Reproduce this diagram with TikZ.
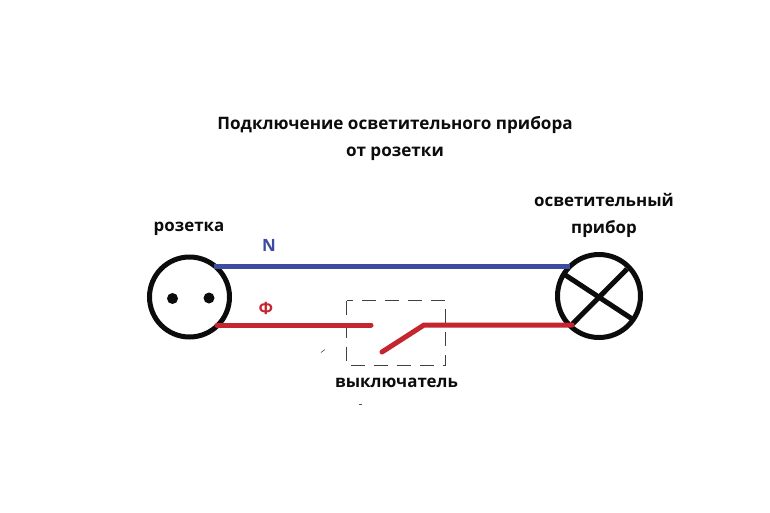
\documentclass[tikz,border=0pt]{standalone}
\usepackage{fontspec}
\setmainfont{Open Sans}
\definecolor{wireblue}{HTML}{3D4C9E}
\definecolor{wirered}{HTML}{C4252F}
\definecolor{ink}{HTML}{0C0C0C}
\tikzset{
  x=1pt,y=-1pt,
  lbl/.style={font=\bfseries\fontsize{16.9}{26.5}\selectfont,text=ink,align=center,inner sep=0pt},
  ttl/.style={font=\bfseries\fontsize{17.1}{26.5}\selectfont,text=ink,align=center,inner sep=0pt},
  ring/.style={circle,draw=ink,line width=5pt,inner sep=0pt},
  pin/.style={circle,fill=ink,minimum size=11pt,inner sep=0pt},
  bluewire/.style={draw=wireblue,line width=5pt},
  redwire/.style={draw=wirered,line width=5pt,line cap=round},
  cross/.style={draw=ink,line width=5pt},
  swbox/.style={draw=black!75,line width=1pt,dash pattern=on 14pt off 9pt},
  speck/.style={draw=black!70,line width=0.6pt}
}
\begin{document}
\begin{tikzpicture}
\useasboundingbox (0,0) rectangle (770,512);
\fill[white] (0,0) rectangle (770,512);
\node[ttl] (title) at (395,138.5) {Подключение осветительного прибора\\от розетки};
\node[lbl] (lblsocket) at (189,229) {розетка};
\node[lbl] (lbllamp) at (604,215.5) {осветительный\\прибор};
\node[lbl] (lblswitch) at (396.5,383) {выключатель};
\node[lbl,text=wireblue] (lbln) at (269,245) {N};
\node[lbl,text=wirered] (lblf) at (266,308) {Ф};
% switch box
\coordinate (bnw) at (346.5,300.5);
\coordinate (bse) at (445.5,365.5);
\draw[swbox] (bnw) rectangle (bse);
% wire end points
\coordinate (sockN) at (214,266.5);
\coordinate (lampN) at (570,266.5);
\coordinate (sockF) at (217,325);
\coordinate (lampF) at (572,325);
\coordinate (contA) at (371,325);
\coordinate (contB) at (382,352);
\coordinate (contC) at (424,325);
% symbols
\node[ring,minimum size=80pt] (socket) at (189.5,297) {};
\node[ring,minimum size=83pt] (lamp) at (599,296) {};
\node[pin] (pinl) at (172.5,298.5) {};
\node[pin] (pinr) at (209,298) {};
\coordinate (xa) at (564.5,274.5);
\coordinate (xb) at (633,319.5);
\coordinate (xc) at (572.5,324);
\coordinate (xd) at (627,269);
\draw[cross] (xa) -- (xb);
\draw[cross] (xc) -- (xd);
% wires
\draw[bluewire] (sockN) -- (lampN);
\draw[redwire] (sockF) -- (contA);
\draw[redwire] (contB) -- (contC) -- (lampF);
% specks
\coordinate (sa) at (325,349.5);
\draw[speck] (sa) -- ++(-4,3);
\coordinate (sc) at (358.5,404);
\draw[speck] (sc) -- ++(3,0);
\end{tikzpicture}
\end{document}
